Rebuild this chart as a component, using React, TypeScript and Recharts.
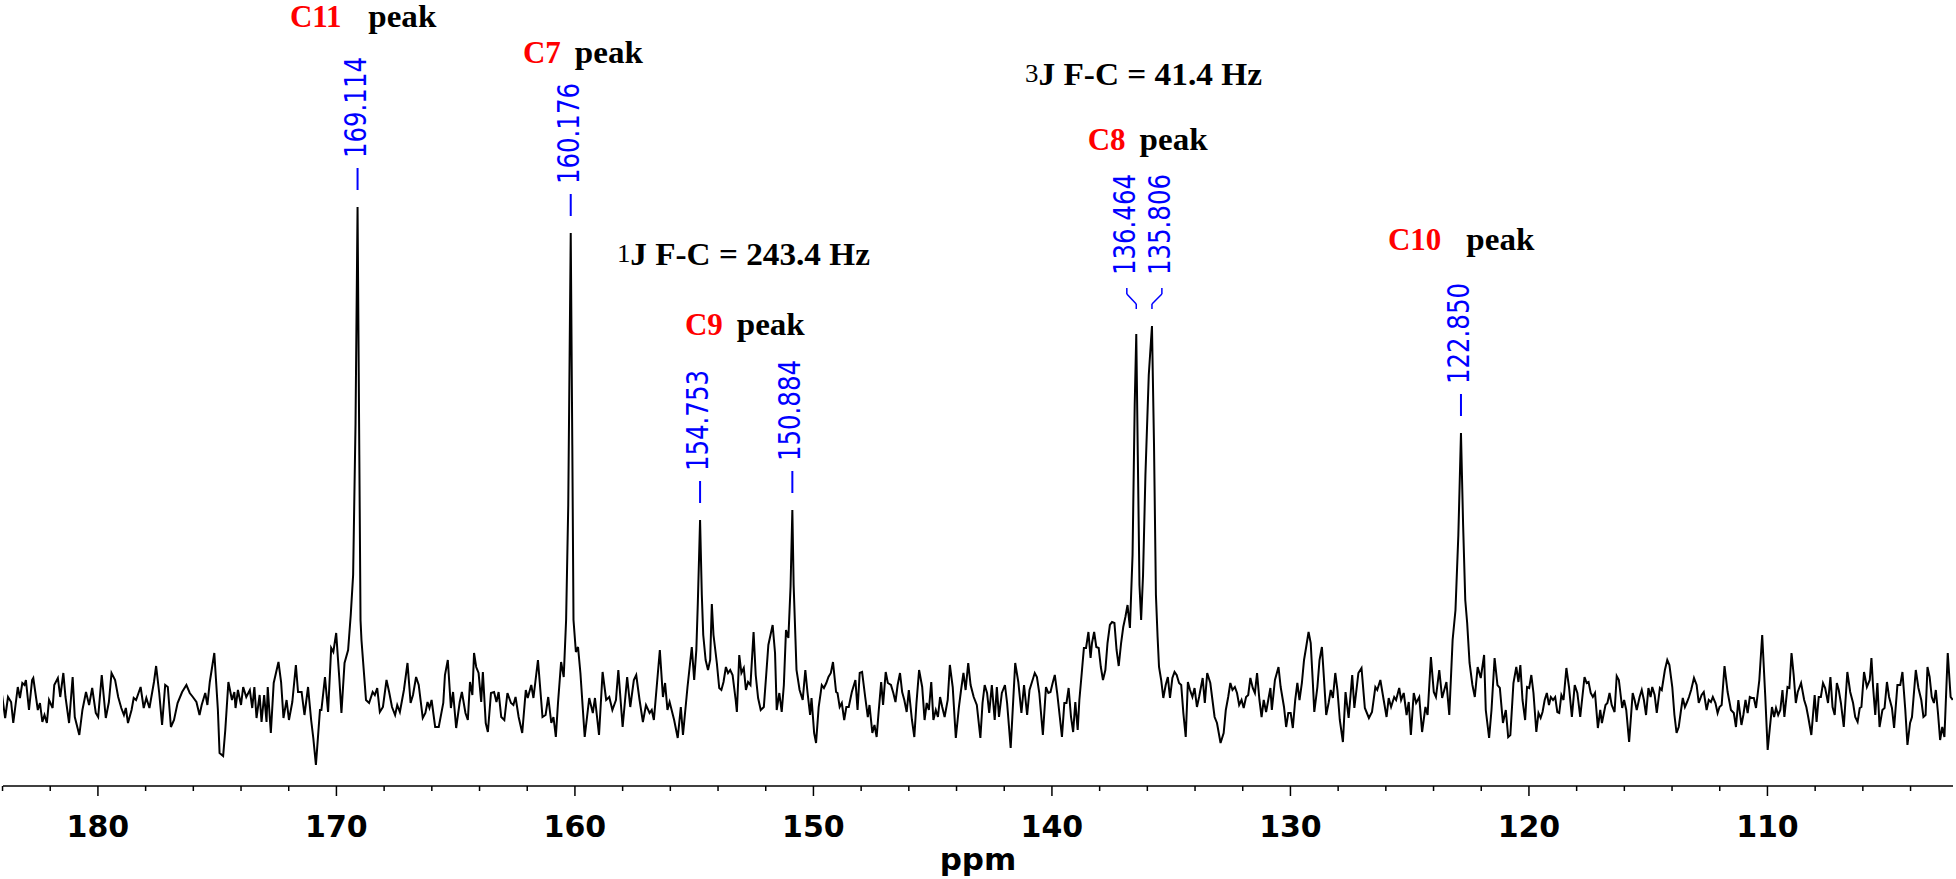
import React from 'react';
import { LineChart, Line, XAxis, YAxis, ReferenceDot, ReferenceLine } from 'recharts';

// chemical shift (ppm) of each digitised vertex of the 13C trace
const PPM: number[] = [
  184.02, 183.89, 183.77, 183.64, 183.55, 183.36, 183.27, 183.17, 183.08, 183.02,
  182.89, 182.76, 182.71, 182.52, 182.43, 182.33, 182.24, 182.14, 182.05, 181.90,
  181.83, 181.68, 181.58, 181.45, 181.36, 181.21, 181.06, 180.97, 180.78, 180.65,
  180.50, 180.37, 180.24, 180.09, 179.99, 179.84, 179.67, 179.54, 179.43, 179.28,
  179.15, 179.02, 178.91, 178.83, 178.74, 178.59, 178.50, 178.40, 178.21, 178.08,
  177.97, 177.84, 177.65, 177.56, 177.43, 177.31, 177.18, 177.07, 176.94, 176.81,
  176.66, 176.47, 176.29, 176.15, 176.02, 175.87, 175.74, 175.65, 175.50, 175.41,
  175.31, 175.12, 174.97, 174.90, 174.75, 174.66, 174.53, 174.38, 174.28, 174.23,
  174.13, 174.00, 173.91, 173.78, 173.63, 173.53, 173.44, 173.35, 173.22, 173.14,
  173.03, 172.93, 172.88, 172.75, 172.63, 172.43, 172.32, 172.22, 172.09, 171.99,
  171.85, 171.70, 171.61, 171.46, 171.34, 171.19, 171.06, 170.97, 170.86, 170.69,
  170.63, 170.48, 170.35, 170.22, 170.13, 170.01, 169.88, 169.79, 169.66, 169.51,
  169.40, 169.30, 169.20, 169.114, 169.04, 168.99, 168.95,
  168.76, 168.63, 168.48, 168.39, 168.29, 168.18, 168.05, 167.90, 167.79, 167.67,
  167.54, 167.45, 167.34, 167.17, 167.02, 166.89, 166.79, 166.66, 166.55, 166.38,
  166.27, 166.18, 166.10, 166.01, 165.86, 165.71, 165.52, 165.45, 165.33, 165.20,
  165.11, 164.98, 164.83, 164.74, 164.59, 164.49, 164.40, 164.30, 164.23, 164.14,
  164.04, 163.93, 163.86, 163.74, 163.65, 163.52, 163.39, 163.29, 163.20, 163.09,
  162.96, 162.83, 162.68, 162.58, 162.49, 162.36, 162.21, 162.06, 161.98, 161.83,
  161.74, 161.55, 161.36, 161.23, 161.12, 160.99, 160.90, 160.80, 160.71, 160.58,
  160.47, 160.37, 160.28, 160.176, 160.11, 160.06, 159.96, 159.87, 159.77, 159.59,
  159.40, 159.25, 159.16, 158.99, 158.84, 158.69, 158.56, 158.43, 158.28, 158.18,
  158.00, 157.81, 157.68, 157.53, 157.43, 157.29, 157.15, 157.02, 156.87, 156.78,
  156.69, 156.44, 156.31, 156.22, 156.12, 156.03, 155.84, 155.69, 155.56, 155.47,
  155.28, 155.10, 155.00, 154.91, 154.85, 154.753, 154.68, 154.62, 154.52, 154.42,
  154.33, 154.26, 154.19, 154.05, 153.95, 153.86, 153.77, 153.67, 153.58, 153.49,
  153.39, 153.26, 153.21, 153.11, 153.02, 152.92, 152.83, 152.74, 152.64, 152.51,
  152.42, 152.32, 152.21, 152.08, 151.99, 151.89, 151.80, 151.71, 151.61, 151.54,
  151.43, 151.33, 151.24, 151.15, 151.05, 150.96, 150.884, 150.83, 150.71, 150.58,
  150.45, 150.34, 150.25, 150.14, 150.08, 149.97, 149.89, 149.78, 149.65, 149.56,
  149.46, 149.37, 149.27, 149.18, 149.05, 148.99, 148.90, 148.81, 148.71, 148.62,
  148.52, 148.39, 148.24, 148.15, 148.06, 147.96, 147.83, 147.72, 147.65, 147.53,
  147.44, 147.35, 147.27, 147.16, 147.08, 146.97, 146.88, 146.75, 146.65, 146.56,
  146.47, 146.37, 146.28, 146.19, 146.09, 146.00, 145.87, 145.77, 145.68, 145.57,
  145.44, 145.34, 145.25, 145.16, 145.06, 144.97, 144.87, 144.78, 144.69, 144.60,
  144.50, 144.37, 144.28, 144.16, 144.03, 143.90, 143.81, 143.71, 143.62, 143.51,
  143.41, 143.28, 143.15, 143.00, 142.91, 142.82, 142.72, 142.63, 142.52, 142.40,
  142.31, 142.22, 142.10, 141.97, 141.88, 141.73, 141.66, 141.54, 141.41, 141.28,
  141.17, 141.04, 140.94, 140.85, 140.72, 140.63, 140.53, 140.38, 140.25, 140.15,
  140.06, 139.97, 139.88, 139.78, 139.67, 139.58, 139.48, 139.39, 139.30, 139.20,
  139.11, 139.02, 138.92, 138.85, 138.75, 138.66, 138.57, 138.47, 138.38, 138.32,
  138.23, 138.14, 138.04, 137.95, 137.86, 137.76, 137.67, 137.57, 137.48, 137.38,
  137.29, 137.20, 137.10, 137.01, 136.92, 136.83, 136.73, 136.62, 136.53, 136.464,
  136.40, 136.33, 136.26, 136.18, 136.08, 135.94, 135.806, 135.72, 135.64, 135.57,
  135.51, 135.42, 135.33, 135.23, 135.14, 135.05, 134.95, 134.86, 134.77, 134.67,
  134.58, 134.49, 134.39, 134.30, 134.21, 134.11, 134.02, 133.92, 133.83, 133.68,
  133.59, 133.49, 133.36, 133.27, 133.18, 133.08, 132.93, 132.80, 132.71, 132.61,
  132.52, 132.43, 132.33, 132.24, 132.15, 132.05, 131.96, 131.86, 131.77, 131.68,
  131.58, 131.49, 131.40, 131.30, 131.21, 131.12, 131.02, 130.93, 130.84, 130.78,
  130.65, 130.50, 130.41, 130.27, 130.18, 130.09, 129.99, 129.90, 129.80, 129.71,
  129.62, 129.52, 129.43, 129.34, 129.24, 129.15, 129.06, 129.00, 128.87, 128.78,
  128.68, 128.59, 128.50, 128.40, 128.31, 128.22, 128.12, 128.03, 127.93, 127.80,
  127.69, 127.56, 127.41, 127.32, 127.15, 127.02, 126.88, 126.71, 126.58, 126.44,
  126.36, 126.23, 126.09, 125.97, 125.88, 125.78, 125.65, 125.57, 125.44, 125.36,
  125.25, 125.13, 125.04, 124.95, 124.83, 124.73, 124.60, 124.48, 124.34, 124.25,
  124.11, 123.99, 123.90, 123.76, 123.64, 123.46, 123.34, 123.20, 123.08, 122.96,
  122.85, 122.76, 122.67, 122.59, 122.49, 122.37, 122.27, 122.15, 122.02, 121.88,
  121.81, 121.67, 121.57, 121.44, 121.32, 121.22, 121.09, 120.97, 120.87, 120.78,
  120.65, 120.53, 120.44, 120.36, 120.27, 120.16, 120.08, 119.99, 119.90, 119.81,
  119.69, 119.60, 119.51, 119.43, 119.34, 119.25, 119.16, 119.08, 118.99, 118.90,
  118.81, 118.73, 118.64, 118.55, 118.43, 118.32, 118.20, 118.08, 117.97, 117.85,
  117.67, 117.58, 117.50, 117.41, 117.32, 117.23, 117.11, 117.01, 116.94, 116.79,
  116.71, 116.62, 116.53, 116.41, 116.32, 116.23, 116.09, 116.01, 115.92, 115.80,
  115.65, 115.57, 115.48, 115.36, 115.27, 115.18, 115.09, 114.99, 114.90, 114.83,
  114.73, 114.64, 114.51, 114.43, 114.30, 114.20, 114.11, 113.99, 113.90, 113.81,
  113.72, 113.64, 113.55, 113.46, 113.37, 113.29, 113.20, 113.08, 112.97, 112.88,
  112.76, 112.67, 112.55, 112.46, 112.37, 112.29, 112.18, 112.09, 112.01, 111.92,
  111.80, 111.67, 111.53, 111.41, 111.32, 111.22, 111.09, 111.01, 110.92, 110.83,
  110.74, 110.66, 110.57, 110.48, 110.34, 110.22, 110.09, 109.99, 109.90, 109.81,
  109.72, 109.64, 109.55, 109.46, 109.37, 109.29, 109.16, 109.08, 108.99, 108.90,
  108.81, 108.73, 108.59, 108.46, 108.37, 108.29, 108.16, 108.02, 107.94, 107.85,
  107.76, 107.67, 107.58, 107.46, 107.36, 107.27, 107.18, 107.09, 107.01, 106.92,
  106.80, 106.65, 106.53, 106.41, 106.32, 106.22, 106.13, 106.06, 105.95, 105.83,
  105.71, 105.64, 105.57, 105.48, 105.39, 105.30, 105.18, 105.09, 104.99, 104.90,
  104.78, 104.69, 104.55, 104.43, 104.34, 104.22, 104.13, 104.02, 103.94, 103.78,
  103.67, 103.55, 103.46, 103.37, 103.29, 103.20, 103.11, 103.02, 102.94, 102.85,
  102.76, 102.67, 102.58, 102.44, 102.32, 102.23,
];

// signal intensity (arbitrary units) at each vertex above
const INTENSITY: number[] = [
  10, -13, 8, 3, -18, 18, 7, 22, 20, 25,
  -5, 25, 27, -5, 2, -17, -10, -18, 5, -3,
  20, 27, 8, 32, 8, -18, 28, -12, -30, -5,
  13, 0, 17, -8, -12, 30, -13, 3, 32, 25,
  8, -3, -10, -3, -18, -5, 7, 5, 18, -3,
  7, -3, 23, 39, 12, -20, 20, 18, -22, -15,
  2, 13, 20, 12, 8, 3, -10, 0, 12, 0,
  23, 52, -5, -48, -51, -25, 23, 5, 13, -3,
  15, 0, 18, 8, 15, -3, 18, -13, 10, -17,
  10, -17, 18, -28, 22, 43, 23, -13, 5, -15,
  3, 40, 13, 13, -10, 18, -15, -33, -60, -5,
  -5, 28, -7, 57, 53, 72, 27, -8, 42, 55,
  90, 130, 280, 498, 250, 85, 65,
  5, 2, 13, 10, 17, -7, -2, 25, 13, -2,
  -10, 0, -7, 15, 42, 2, 10, 28, 20, -13,
  -8, 3, -3, 5, -22, -22, 2, 30, 45, -3,
  13, -23, 3, 13, -8, -15, 23, 10, 52, 38,
  32, 3, 33, -18, -27, 12, 13, 3, 13, -12,
  -15, 12, 2, 0, 8, -12, -28, 15, 7, 20,
  7, 45, -12, -10, 8, -18, -12, -32, 2, 43,
  28, 85, 200, 472, 260, 85, 53, 58, 32, -32,
  7, -8, 7, -30, 33, 5, 8, -5, 5, 35,
  -22, 28, -2, 25, 30, 5, -17, 0, -8, -5,
  -15, 55, 8, 22, -5, 3, -15, -33, -2, -30,
  18, 58, 25, 55, 100, 185, 110, 70, 45, 35,
  45, 101, 70, 42, 17, 15, 23, 38, 32, 35,
  30, 5, -7, 50, 32, 37, 15, 23, 20, 73,
  30, 7, -5, -2, 27, 60, 70, 80, 52, -5,
  12, -7, 20, 75, 67, 118, 195, 120, 35, 15,
  5, 35, 13, -10, 7, -28, -38, -2, 20, 17,
  22, 28, 32, 43, 13, 12, -2, 2, -15, -2,
  -2, 13, 25, -5, 32, 33, 8, -12, 0, -28,
  -20, -32, -8, 23, 0, 33, 22, 20, 12, 3,
  20, 32, 13, 5, -7, 15, -15, -32, 2, 35,
  18, -15, 2, -5, 23, -15, -5, -12, 8, -2,
  -12, 5, 40, 18, -33, -2, 15, 32, 15, 42,
  20, 8, 0, -33, 2, 20, 12, -8, 20, -15,
  18, -12, 12, 20, 2, -43, -12, 42, 23, -8,
  20, -10, 15, 22, 32, 28, 12, -30, 18, 12,
  13, 22, 30, 12, -12, -32, 2, 2, 17, -12,
  -27, 3, -25, 5, 32, 57, 57, 73, 47, 62,
  73, 58, 57, 38, 25, 35, 62, 80, 83, 82,
  55, 39, 62, 78, 88, 100, 77, 150, 300, 371,
  250, 120, 85, 130, 230, 330, 379, 260, 110, 68,
  38, 25, 7, 20, 28, 7, 27, 33, 30, 22,
  20, -8, -32, 23, 15, 8, 17, -2, 8, 27,
  2, 32, 22, 5, -12, -18, -38, -28, -5, 8,
  22, 15, 18, 12, 0, 5, -3, 8, 10, 27,
  17, 12, 32, 5, -12, 5, -7, 5, 17, -5,
  25, 38, 18, -2, -22, -8, -8, -23, 5, 22,
  5, 22, 45, 58, 73, 62, 22, -7, 18, 45,
  58, 25, -10, 2, 15, 7, 32, 15, -15, -37,
  13, -13, 30, -3, 32, 37, -3, -13, -7, 18,
  15, 25, 5, -12, 7, -2, 8, 5, 17, 5,
  12, -10, 3, -30, 12, 2, 8, -27, -2, -10,
  48, 13, 8, 35, 7, 23, -10, 65, 95, 170,
  272, 180, 105, 82, 42, 20, 8, 38, 27, 50,
  -5, -33, -5, 47, 20, 17, -18, -5, -32, -30,
  22, 38, 23, 40, 5, -15, 18, 17, 30, 12,
  -27, -8, -13, -7, 5, 12, 0, 8, 5, 8,
  -7, -8, 10, 5, 37, 18, -12, 20, 12, -12,
  28, 22, 23, 12, 8, 12, -23, -5, -18, 0,
  2, 12, 0, -7, 29, 25, -3, 5, -5, -37,
  12, 5, -5, 8, 15, 5, -10, 17, 8, 18,
  10, -8, 17, 15, 35, 45, 40, 18, -10, -28,
  -22, -8, 7, -2, 3, 8, 15, 27, 20, 2,
  10, 13, -5, 5, 3, 8, 2, -8, -2, 0,
  39, 13, -5, -8, -22, 5, -20, -10, 5, -8,
  8, 7, 7, -3, 25, 70, 8, -45, -23, -2,
  -12, -3, -10, -5, 15, -12, 18, 17, 52, 30,
  2, 13, 22, 5, -2, -12, -30, 10, -17, 8,
  8, 22, 17, 2, 28, -2, -10, 22, 15, 2,
  -22, 33, 13, 2, -12, -17, -3, -2, 33, 18,
  25, 47, 18, -10, 22, -22, -5, -3, 23, 8,
  -3, -23, 20, 20, 33, -5, -40, -18, -12, 35,
  17, 5, -12, -10, 38, 28, 8, 2, 15, -8,
  -35, -22, -32, 52, 8, 5,
];

// x-axis ticks (ppm): every 2 ppm, labelled every 10 ppm
const AXIS_TICKS: number[] = [
  184, 182, 180, 178, 176, 174, 172, 170, 168, 166, 164, 162, 160, 158, 156, 154,
  152, 150, 148, 146, 144, 142, 140, 138, 136, 134, 132, 130, 128, 126, 124, 122,
  120, 118, 116, 114, 112, 110, 108, 106, 104,
];
const LABELLED_TICKS: number[] = [180, 170, 160, 150, 140, 130, 120, 110];

// peak-picking labels: peak position, printed text, label position (ppm), group
const PEAK_PPM: number[] = [169.114, 160.176, 154.753, 150.884, 136.464, 135.806, 122.85];
const PEAK_TEXT: string[] = ['169.114', '160.176', '154.753', '150.884', '136.464', '135.806', '122.850'];
const PEAK_LABEL_PPM: number[] = [169.114, 160.176, 154.753, 150.884, 136.86, 135.39, 122.85];
const PEAK_GROUP: number[] = [0, 1, 2, 3, 4, 4, 5];

// assignment annotations: anchor (ppm, intensity) of text start/baseline
const ASSIGN_LABEL: string[] = ['C11', 'C7', 'C9', 'C8', 'C10'];
const ASSIGN_PPM: number[] = [171.95, 162.18, 155.39, 138.5, 125.91];
const ASSIGN_INT: number[] = [678, 642, 370, 555, 455];

// coupling annotations
const COUPLING_SUP: string[] = ['1', '3'];
const COUPLING_TEXT: string[] = ['J F-C = 243.4 Hz', 'J F-C = 41.4 Hz'];
const COUPLING_PPM: number[] = [158.24, 141.13];
const COUPLING_INT: number[] = [440, 620];

const data = PPM.map((p, i) => ({ ppm: p, v: INTENSITY[i] }));

const BLUE = '#0000ff';
const RED = '#ff0000';
const SERIF = '"Liberation Serif", "Times New Roman", serif';
const SANS = '"DejaVu Sans", Verdana, sans-serif';

const intensityAt = (ppm: number) => {
  const i = PPM.indexOf(ppm);
  return i >= 0 ? INTENSITY[i] : 0;
};

const AxisTick = (props: any) => {
  const { x, y, payload } = props;
  const major = LABELLED_TICKS.includes(payload.value);
  return (
    <g>
      <line x1={x} x2={x} y1={y} y2={y + (major ? 10 : 5)} stroke="#000" strokeWidth={1.5} />
      {major && (
        <text x={x} y={y + 51} textAnchor="middle" fontFamily={SANS} fontWeight="bold" fontSize={30} fill="#000">
          {payload.value}
        </text>
      )}
    </g>
  );
};

const AxisLabel = (props: any) => {
  const vb = props.viewBox || {};
  return (
    <text x={vb.x + vb.width / 2} y={vb.y + 84} textAnchor="middle" fontFamily={SANS} fontWeight="bold" fontSize={31} fill="#000">
      ppm
    </text>
  );
};

export default function App() {
  // base of each label group: highest peak of the group + gap
  const groupBase: Record<number, number> = {};
  PEAK_PPM.forEach((p, i) => {
    const g = PEAK_GROUP[i];
    const b = intensityAt(p) + 17;
    groupBase[g] = Math.max(groupBase[g] ?? -Infinity, b);
  });

  const peakElems: React.ReactNode[] = [];
  PEAK_PPM.forEach((p, i) => {
    const base = groupBase[PEAK_GROUP[i]];
    const lp = PEAK_LABEL_PPM[i];
    const shifted = lp !== p;
    if (!shifted) {
      peakElems.push(
        <ReferenceLine key={`d${i}`} segment={[{ x: p, y: base }, { x: p, y: base + 22 }]} stroke={BLUE} strokeWidth={2} />
      );
    } else {
      peakElems.push(
        <ReferenceLine key={`c1${i}`} segment={[{ x: p, y: base }, { x: p, y: base + 5 }]} stroke={BLUE} strokeWidth={1.5} />,
        <ReferenceLine key={`c2${i}`} segment={[{ x: p, y: base + 5 }, { x: lp, y: base + 15 }]} stroke={BLUE} strokeWidth={1.5} />,
        <ReferenceLine key={`c3${i}`} segment={[{ x: lp, y: base + 15 }, { x: lp, y: base + 21 }]} stroke={BLUE} strokeWidth={1.5} />
      );
    }
    const textStart = shifted ? base + 34 : base + 32;
    const txt = PEAK_TEXT[i];
    peakElems.push(
      <ReferenceDot
        key={`t${i}`}
        x={lp}
        y={textStart}
        r={0}
        shape={(sp: any) => (
          <text
            x={sp.cx + 8}
            y={sp.cy}
            transform={`rotate(-90 ${sp.cx + 8} ${sp.cy})`}
            fontFamily={SANS}
            fontSize={31}
            fill={BLUE}
            textLength={101}
            lengthAdjust="spacingAndGlyphs"
          >
            {txt}
          </text>
        )}
      />
    );
  });

  const assignElems = ASSIGN_LABEL.map((lab, i) => {
    const cw = 31 * (0.722 + 0.5 * (lab.length - 1));
    const gap = lab.length > 2 ? 25 : 14;
    return (
      <ReferenceDot
        key={`a${i}`}
        x={ASSIGN_PPM[i]}
        y={ASSIGN_INT[i]}
        r={0}
        shape={(sp: any) => (
          <g>
            <text x={sp.cx} y={sp.cy} fontFamily={SERIF} fontWeight="bold" fontSize={31} fill={RED}>
              {lab}
            </text>
            <text
              x={sp.cx + cw + gap}
              y={sp.cy}
              fontFamily={SERIF}
              fontWeight="bold"
              fontSize={31}
              fill="#000"
              textLength={68}
              lengthAdjust="spacingAndGlyphs"
            >
              peak
            </text>
          </g>
        )}
      />
    );
  });

  const couplingElems = COUPLING_TEXT.map((t, i) => {
    const sup = COUPLING_SUP[i];
    const width = i === 0 ? 253 : 237;
    return (
      <ReferenceDot
        key={`j${i}`}
        x={COUPLING_PPM[i]}
        y={COUPLING_INT[i]}
        r={0}
        shape={(sp: any) => (
          <text
            x={sp.cx}
            y={sp.cy}
            fontFamily={SERIF}
            fill="#000"
            textLength={width}
            lengthAdjust="spacingAndGlyphs"
          >
            <tspan fontSize={25} dy={-3}>{sup}</tspan>
            <tspan fontSize={31} fontWeight="bold" dy={3}>{t}</tspan>
          </text>
        )}
      />
    );
  });

  return (
    <div style={{ position: 'absolute', left: 0, top: 0, width: 1956, height: 879, background: '#fff' }}>
      <LineChart width={1956} height={879} data={data} margin={{ top: 0, right: 3, bottom: 0, left: 3 }}>
        <XAxis
          dataKey="ppm"
          type="number"
          domain={[102.22, 183.98]}
          reversed
          allowDataOverflow
          ticks={AXIS_TICKS}
          interval={0}
          tickSize={0}
          tickMargin={0}
          tickLine={false}
          axisLine={{ stroke: '#000', strokeWidth: 1.5 }}
          height={93}
          tick={(p: any) => <AxisTick {...p} />}
          label={(p: any) => <AxisLabel {...p} />}
        />
        <YAxis type="number" domain={[-81, 705]} allowDataOverflow hide />
        <Line
          type="linear"
          dataKey="v"
          stroke="#000"
          strokeWidth={2}
          dot={false}
          activeDot={false}
          isAnimationActive={false}
        />
        {peakElems}
        {assignElems}
        {couplingElems}
      </LineChart>
    </div>
  );
}
